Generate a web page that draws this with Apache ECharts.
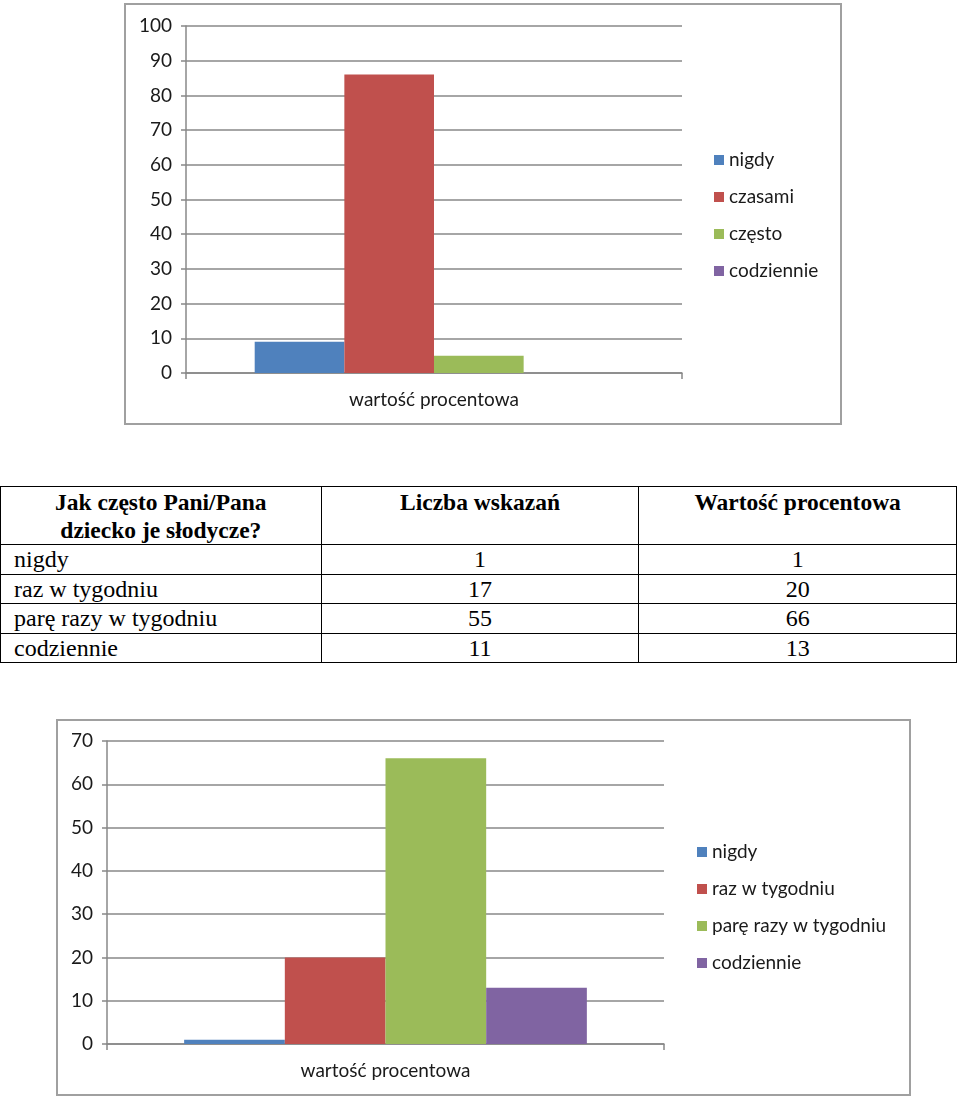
<!DOCTYPE html>
<html>
<head>
<meta charset="utf-8">
<script src="https://cdn.jsdelivr.net/npm/echarts@6/dist/echarts.min.js"></script>
<style>
  html, body { margin: 0; padding: 0; background: #fff; }
  body { width: 960px; height: 1099px; position: relative; overflow: hidden; }
  .frame { position: absolute; box-sizing: border-box; border: 2px solid #a0a0a0; background: #fff; }
  #chart1 { left: 124px; top: 3px; width: 718px; height: 422px; }
  #chart2 { left: 56px; top: 719px; width: 855px; height: 377px; }
  table {
    position: absolute; left: 0; top: 486px; width: 957px;
    border-collapse: collapse; font-family: "Liberation Serif", "Times New Roman", serif;
    color: #000;
  }
  td, th { border: 1.5px solid #000; padding: 0 0 0 13px; }
  th { font-size: 23.5px; font-weight: bold; vertical-align: top; height: 56px; line-height: 28px; padding: 1px 0 0 0; }
  td { font-size: 24px; height: 28.5px; line-height: 28.5px; }
  td.num { text-align: center; padding: 0; }
</style>
</head>
<body>
<div id="chart1" class="frame"></div>
<table id="tbl"></table>
<div id="chart2" class="frame"></div>
<script>
// wykres 1
const names1 = ['nigdy', 'czasami', 'często', 'codziennie'];
const values1 = [9, 86, 5, 0];
// tabela
const tableHeader = ['Jak często Pani/Pana dziecko je słodycze?', 'Liczba wskazań', 'Wartość procentowa'];
const rowLabels = ['nigdy', 'raz w tygodniu', 'parę razy w tygodniu', 'codziennie'];
const rowCounts = [1, 17, 55, 11];
const rowPercents = [1, 20, 66, 13];
// wykres 2
const names2 = ['nigdy', 'raz w tygodniu', 'parę razy w tygodniu', 'codziennie'];
const values2 = [1, 20, 66, 13];
const xCategory = ['wartość procentowa'];
const colors = ['#4F81BD', '#C0504D', '#9BBB59', '#8064A2'];

const font = 'Lato, "Open Sans", sans-serif';

// tabela HTML
const tbl = document.getElementById('tbl');
let html = '<tr>' + tableHeader.map((h, i) =>
  '<th style="width:' + (i === 0 ? 320 : 317) + 'px">' + (i === 0 ? 'Jak często Pani/Pana<br>dziecko je słodycze?' : h) + '</th>').join('') + '</tr>';
rowLabels.forEach((label, i) => {
  html += '<tr><td>' + label + '</td><td class="num">' + rowCounts[i] + '</td><td class="num">' + rowPercents[i] + '</td></tr>';
});
tbl.innerHTML = html;

function makeChart(el, names, values, max, grid, legendPos) {
  const chart = echarts.init(el, null, { renderer: 'canvas' });
  chart.setOption({
    animation: false,
    color: colors,
    textStyle: { fontFamily: font },
    grid: grid,
    legend: {
      orient: 'vertical',
      left: legendPos.left,
      top: legendPos.top,
      icon: 'rect',
      itemWidth: 10,
      itemHeight: 10,
      itemGap: 17,
      textStyle: { fontSize: 19, color: '#1a1a1a', lineHeight: 20, fontFamily: font },
      data: names,
      selectedMode: false
    },
    xAxis: {
      type: 'category',
      data: xCategory,
      axisLine: { lineStyle: { color: '#888', width: 1.5 } },
      axisTick: { show: true, length: 6, lineStyle: { color: '#888', width: 1.5 } },
      axisLabel: { fontSize: 19, color: '#1a1a1a', margin: 17, fontFamily: font }
    },
    yAxis: {
      type: 'value',
      min: 0,
      max: max,
      interval: 10,
      axisLine: { show: true, lineStyle: { color: '#888', width: 1.5 } },
      axisTick: { show: true, length: 5, lineStyle: { color: '#888', width: 1.5 } },
      axisLabel: { fontSize: 19, color: '#1a1a1a', margin: 14, fontFamily: font },
      splitLine: { lineStyle: { color: '#888', width: 1.5 } }
    },
    series: names.map((n, i) => ({
      name: n,
      type: 'bar',
      data: [values[i]],
      barGap: '0%',
      barCategoryGap: '27.7%',
      itemStyle: { color: colors[i] }
    }))
  });
  return chart;
}

makeChart(document.getElementById('chart1'), names1, values1, 100,
  { left: 60, top: 21, width: 496, height: 347 }, { left: 583, top: 140 });
makeChart(document.getElementById('chart2'), names2, values2, 70,
  { left: 49, top: 20, width: 557, height: 303 }, { left: 634, top: 116 });
</script>
</body>
</html>
